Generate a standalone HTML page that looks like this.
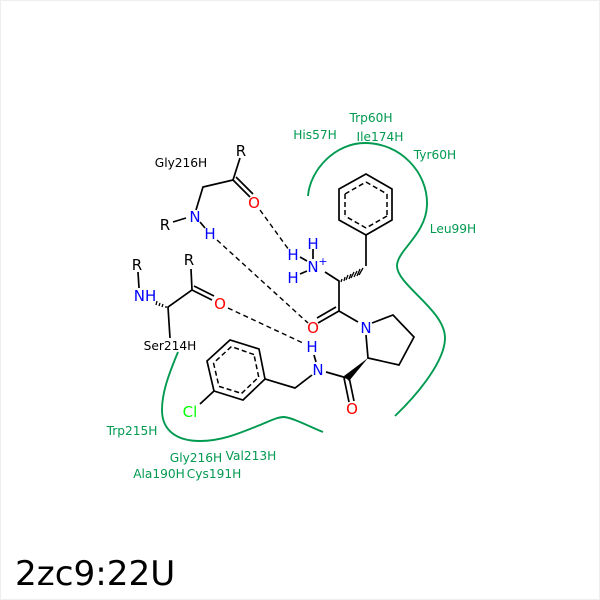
<!DOCTYPE html>
<html><head><meta charset="utf-8"><style>
html,body{margin:0;padding:0;background:#fff}
svg{display:block}
text{font-family:"DejaVu Sans",sans-serif}
.g{fill:#009a50;font-size:12.2px;text-anchor:middle}
.k{fill:#000;font-size:12.2px;text-anchor:middle}
.a{font-size:15px;text-anchor:middle}
.b{fill:#0000ff}.r{fill:#ff0000}.n{fill:#000}
</style></head><body>
<svg width="600" height="600" viewBox="0 0 600 600" xmlns="http://www.w3.org/2000/svg">
<rect x="0.5" y="0.5" width="599" height="599" fill="#fff" stroke="#eeeeee"/>
<g fill="none" stroke="#009a50" stroke-width="1.9">
<path d="M308 196C310 170 335 143 365 143C400 143 428 172 427 205C426 235 397 250 397 266C397 285 445 310 445 338C445 360 420 392 395 416"/>
<path d="M178 352C168 376 162 393 162 410C162 430 176 441 200 441C222 441 240 433 260 425C270 421 277 417 284 417C294 418 310 427 323 432"/>
</g>
<g fill="none" stroke="#000" stroke-width="1.7">
<path d="M240 158L233 180L203 187L196 210M173 222L186 218"/>
<path d="M233 180L250 197M236 177L253 194"/>
<path d="M191 269L192 290L168 307L170 338M138 272L139 288"/>
<path d="M192 290L212 300M194 286L214 296"/>
<path d="M366 174L392 189L392 220L366 235L339 220L339 189Z"/>
<path d="M366 235L366 266M325 272L339 281L339 311L358 322"/>
<path d="M339 311L318 323M336 307L317 318"/>
<path d="M372 323L393 315L414 337L399 365L368 358L366 335"/>
<path d="M326 372L347 378M344 378L349 402M349 377L354 401"/>
<path d="M312 375L295 388L265 379L259 349L230 340L207 361L214 391L243 400L265 379M214 391L200 404"/>
</g>
<g fill="none" stroke="#000" stroke-width="1.5" stroke-dasharray="5 3">
<path d="M366 182L387 194M387 194L387 215M387 216L366 228M366 228L345 216M345 215L345 194M345 194L366 182"/>
<path d="M258.7 377L254 354.6M254 354.6L231.4 346.6M231.4 346.6L213.5 363M213.5 363L219 386.4M219 386.4L241.6 393.4M241.6 393.4L258.7 377"/>
</g>
<polygon points="368,358 344,376 349,381" fill="#000"/>
<g stroke="#000" stroke-width="1.3">
<path d="M342 279L341 282M345 277L344 281M348 275L346 280M351 274L349 279M354 272L351 278M357 271L354 277M360 269L357 276M363 268L359 275"/>
<path d="M166 306L166 308M163 304L162 307M160 303L159 306M157 301L156 305"/>
</g>
<g fill="none" stroke="#000" stroke-width="1.4" stroke-dasharray="5 3.5">
<path d="M260 210L289 250M217 240L308 323M228 308L303 343"/>
</g>
<g fill="none" stroke="#000" stroke-width="1.7">
<path d="M200 222L205 228M313 249L313 259M300 257L307 261M300 274L307 271M314 355L316 362"/>
</g>
<g class="a">
<text class="n" x="241" y="156">R</text>
<text class="n" x="165" y="230">R</text>
<text class="n" x="189" y="265">R</text>
<text class="n" x="137" y="270">R</text>
<text class="b" x="195" y="222">N</text>
<text class="b" x="210" y="239">H</text>
<text class="r" x="254" y="208">O</text>
<text class="r" x="220" y="309">O</text>
<text class="r" x="313" y="333">O</text>
<text class="r" x="352" y="414">O</text>
<text class="b" x="145" y="301">NH</text>
<text class="b" x="293" y="260">H</text>
<text class="b" x="313" y="249">H</text>
<text class="b" x="293" y="283">H</text>
<text class="b" x="313" y="272">N</text>
<text class="b" x="323" y="265" style="font-size:11px">+</text>
<text class="b" x="366" y="333">N</text>
<text class="b" x="312" y="352">H</text>
<text class="b" x="318" y="375">N</text>
<text x="190" y="417" fill="#00ff00">Cl</text>
</g>
<g class="g">
<text x="315" y="139">His57H</text>
<text x="371" y="122">Trp60H</text>
<text x="380" y="141">Ile174H</text>
<text x="435" y="159">Tyr60H</text>
<text x="453" y="233">Leu99H</text>
<text x="132" y="435">Trp215H</text>
<text x="196" y="462">Gly216H</text>
<text x="251" y="460">Val213H</text>
<text x="159" y="478">Ala190H</text>
<text x="214" y="478">Cys191H</text>
</g>
<text class="k" x="181" y="167">Gly216H</text>
<text class="k" x="170" y="350">Ser214H</text>
<text x="15" y="585" font-size="34.2" fill="#000">2zc9:22U</text>
</svg>
</body></html>
